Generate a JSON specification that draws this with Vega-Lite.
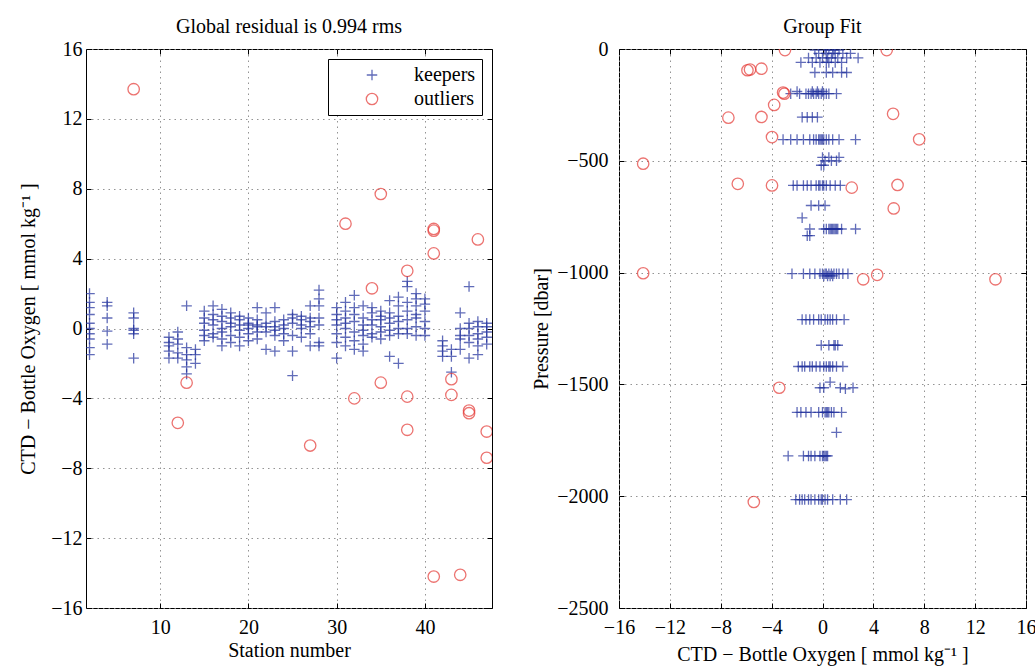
{
"$schema":"https://vega.github.io/schema/vega-lite/v6.json",
"padding":{"left":18,"top":16,"right":5,"bottom":3},
"bounds":"flush",
"spacing":127,
"resolve":{"legend":{"color":"independent","shape":"independent","size":"independent"},"scale":{"color":"independent","shape":"independent","size":"independent"}},
"config":{
 "font":"Liberation Serif",
 "view":{"stroke":"black","strokeWidth":1},
 "axis":{"labelFont":"Liberation Serif","labelFontSize":20,"labelColor":"black","titleFont":"Liberation Serif","titleFontSize":20,"titleFontWeight":"normal","titleColor":"black","domain":false,"tickColor":"black","tickSize":-5,"gridColor":"#888888","gridDash":[1.5,4],"gridOpacity":0.9,"labelFlush":false,"labelOverlap":false,"format":"d"},
 "legend":{"orient":"top-right","offset":10,"strokeColor":"black","fillColor":"white","padding":6,"labelFont":"Liberation Serif","labelFontSize":20,"labelColor":"black","symbolStrokeWidth":1.3,"symbolSize":110,"rowPadding":4,"symbolOffset":28,"labelOffset":32},
 "title":{"font":"Liberation Serif","fontSize":20,"fontWeight":"normal","color":"black","offset":2}
},
"datasets":{
"left":[
{"station":2,"resid":2.0,"type":"keepers"},{"station":2,"resid":1.5,"type":"keepers"},{"station":2,"resid":1.2,"type":"keepers"},{"station":2,"resid":0.8,"type":"keepers"},{"station":2,"resid":0.3,"type":"keepers"},{"station":2,"resid":0.0,"type":"keepers"},{"station":2,"resid":-0.3,"type":"keepers"},{"station":2,"resid":-0.6,"type":"keepers"},{"station":2,"resid":-1.1,"type":"keepers"},{"station":2,"resid":-1.5,"type":"keepers"},
{"station":4,"resid":1.5,"type":"keepers"},{"station":4,"resid":1.3,"type":"keepers"},{"station":4,"resid":0.6,"type":"keepers"},{"station":4,"resid":-0.15,"type":"keepers"},{"station":4,"resid":-0.9,"type":"keepers"},
{"station":7,"resid":0.9,"type":"keepers"},{"station":7,"resid":0.6,"type":"keepers"},{"station":7,"resid":0.0,"type":"keepers"},{"station":7,"resid":-0.1,"type":"keepers"},{"station":7,"resid":-0.3,"type":"keepers"},{"station":7,"resid":-1.7,"type":"keepers"},
{"station":11,"resid":-0.5,"type":"keepers"},{"station":11,"resid":-0.8,"type":"keepers"},{"station":11,"resid":-1.0,"type":"keepers"},{"station":11,"resid":-1.3,"type":"keepers"},{"station":11,"resid":-1.7,"type":"keepers"},
{"station":12,"resid":-0.2,"type":"keepers"},{"station":12,"resid":-0.6,"type":"keepers"},{"station":12,"resid":-0.9,"type":"keepers"},{"station":12,"resid":-1.4,"type":"keepers"},{"station":12,"resid":-1.7,"type":"keepers"},
{"station":13,"resid":1.3,"type":"keepers"},{"station":13,"resid":-1.1,"type":"keepers"},{"station":13,"resid":-1.5,"type":"keepers"},{"station":13,"resid":-1.8,"type":"keepers"},{"station":13,"resid":-2.2,"type":"keepers"},{"station":13,"resid":-2.6,"type":"keepers"},
{"station":14,"resid":-1.2,"type":"keepers"},{"station":14,"resid":-1.5,"type":"keepers"},{"station":14,"resid":-2.0,"type":"keepers"},
{"station":15,"resid":1.0,"type":"keepers"},{"station":15,"resid":0.6,"type":"keepers"},{"station":15,"resid":0.3,"type":"keepers"},{"station":15,"resid":-0.1,"type":"keepers"},{"station":15,"resid":-0.4,"type":"keepers"},{"station":15,"resid":-0.7,"type":"keepers"},
{"station":16,"resid":1.3,"type":"keepers"},{"station":16,"resid":0.8,"type":"keepers"},{"station":16,"resid":0.5,"type":"keepers"},{"station":16,"resid":0.2,"type":"keepers"},{"station":16,"resid":-0.3,"type":"keepers"},{"station":16,"resid":-0.5,"type":"keepers"},
{"station":17,"resid":1.1,"type":"keepers"},{"station":17,"resid":0.7,"type":"keepers"},{"station":17,"resid":0.4,"type":"keepers"},{"station":17,"resid":0.0,"type":"keepers"},{"station":17,"resid":-0.2,"type":"keepers"},{"station":17,"resid":-0.6,"type":"keepers"},{"station":17,"resid":-1.0,"type":"keepers"},
{"station":18,"resid":0.9,"type":"keepers"},{"station":18,"resid":0.6,"type":"keepers"},{"station":18,"resid":0.3,"type":"keepers"},{"station":18,"resid":0.1,"type":"keepers"},{"station":18,"resid":-0.4,"type":"keepers"},{"station":18,"resid":-0.8,"type":"keepers"},
{"station":19,"resid":0.7,"type":"keepers"},{"station":19,"resid":0.5,"type":"keepers"},{"station":19,"resid":0.2,"type":"keepers"},{"station":19,"resid":-0.1,"type":"keepers"},{"station":19,"resid":-0.5,"type":"keepers"},{"station":19,"resid":-1.0,"type":"keepers"},
{"station":20,"resid":0.6,"type":"keepers"},{"station":20,"resid":0.3,"type":"keepers"},{"station":20,"resid":0.2,"type":"keepers"},{"station":20,"resid":0.0,"type":"keepers"},{"station":20,"resid":-0.3,"type":"keepers"},{"station":20,"resid":-0.7,"type":"keepers"},
{"station":21,"resid":1.2,"type":"keepers"},{"station":21,"resid":0.5,"type":"keepers"},{"station":21,"resid":0.2,"type":"keepers"},{"station":21,"resid":0.1,"type":"keepers"},{"station":21,"resid":-0.2,"type":"keepers"},{"station":21,"resid":-0.6,"type":"keepers"},
{"station":22,"resid":0.9,"type":"keepers"},{"station":22,"resid":0.3,"type":"keepers"},{"station":22,"resid":0.1,"type":"keepers"},{"station":22,"resid":-0.2,"type":"keepers"},{"station":22,"resid":-1.2,"type":"keepers"},
{"station":23,"resid":1.2,"type":"keepers"},{"station":23,"resid":0.4,"type":"keepers"},{"station":23,"resid":0.1,"type":"keepers"},{"station":23,"resid":-0.1,"type":"keepers"},{"station":23,"resid":-0.4,"type":"keepers"},{"station":23,"resid":-1.3,"type":"keepers"},
{"station":24,"resid":0.5,"type":"keepers"},{"station":24,"resid":0.2,"type":"keepers"},{"station":24,"resid":0.0,"type":"keepers"},{"station":24,"resid":-0.3,"type":"keepers"},{"station":24,"resid":-0.7,"type":"keepers"},
{"station":25,"resid":0.8,"type":"keepers"},{"station":25,"resid":0.6,"type":"keepers"},{"station":25,"resid":0.3,"type":"keepers"},{"station":25,"resid":-0.4,"type":"keepers"},{"station":25,"resid":-1.3,"type":"keepers"},{"station":25,"resid":-2.7,"type":"keepers"},
{"station":26,"resid":0.7,"type":"keepers"},{"station":26,"resid":0.5,"type":"keepers"},{"station":26,"resid":0.2,"type":"keepers"},{"station":26,"resid":0.0,"type":"keepers"},{"station":26,"resid":-0.5,"type":"keepers"},
{"station":27,"resid":1.3,"type":"keepers"},{"station":27,"resid":0.6,"type":"keepers"},{"station":27,"resid":0.4,"type":"keepers"},{"station":27,"resid":0.1,"type":"keepers"},{"station":27,"resid":-0.3,"type":"keepers"},{"station":27,"resid":-1.0,"type":"keepers"},
{"station":28,"resid":2.2,"type":"keepers"},{"station":28,"resid":1.7,"type":"keepers"},{"station":28,"resid":1.3,"type":"keepers"},{"station":28,"resid":0.6,"type":"keepers"},{"station":28,"resid":0.2,"type":"keepers"},{"station":28,"resid":-0.8,"type":"keepers"},{"station":28,"resid":-1.0,"type":"keepers"},
{"station":30,"resid":1.2,"type":"keepers"},{"station":30,"resid":0.8,"type":"keepers"},{"station":30,"resid":0.5,"type":"keepers"},{"station":30,"resid":0.2,"type":"keepers"},{"station":30,"resid":-0.3,"type":"keepers"},{"station":30,"resid":-0.8,"type":"keepers"},{"station":30,"resid":-1.7,"type":"keepers"},
{"station":31,"resid":1.5,"type":"keepers"},{"station":31,"resid":1.0,"type":"keepers"},{"station":31,"resid":0.6,"type":"keepers"},{"station":31,"resid":0.3,"type":"keepers"},{"station":31,"resid":0.0,"type":"keepers"},{"station":31,"resid":-0.5,"type":"keepers"},{"station":31,"resid":-1.0,"type":"keepers"},
{"station":32,"resid":1.9,"type":"keepers"},{"station":32,"resid":1.2,"type":"keepers"},{"station":32,"resid":0.8,"type":"keepers"},{"station":32,"resid":0.4,"type":"keepers"},{"station":32,"resid":-0.2,"type":"keepers"},{"station":32,"resid":-0.7,"type":"keepers"},{"station":32,"resid":-1.2,"type":"keepers"},
{"station":33,"resid":1.3,"type":"keepers"},{"station":33,"resid":0.6,"type":"keepers"},{"station":33,"resid":0.2,"type":"keepers"},{"station":33,"resid":-0.1,"type":"keepers"},{"station":33,"resid":-0.4,"type":"keepers"},{"station":33,"resid":-0.9,"type":"keepers"},{"station":33,"resid":-1.3,"type":"keepers"},
{"station":34,"resid":1.2,"type":"keepers"},{"station":34,"resid":0.9,"type":"keepers"},{"station":34,"resid":0.5,"type":"keepers"},{"station":34,"resid":0.2,"type":"keepers"},{"station":34,"resid":-0.3,"type":"keepers"},{"station":34,"resid":-0.5,"type":"keepers"},
{"station":35,"resid":1.0,"type":"keepers"},{"station":35,"resid":0.7,"type":"keepers"},{"station":35,"resid":0.5,"type":"keepers"},{"station":35,"resid":0.1,"type":"keepers"},{"station":35,"resid":-0.2,"type":"keepers"},{"station":35,"resid":-0.6,"type":"keepers"},
{"station":36,"resid":1.6,"type":"keepers"},{"station":36,"resid":0.9,"type":"keepers"},{"station":36,"resid":0.6,"type":"keepers"},{"station":36,"resid":0.3,"type":"keepers"},{"station":36,"resid":-0.1,"type":"keepers"},{"station":36,"resid":-0.4,"type":"keepers"},{"station":36,"resid":-1.6,"type":"keepers"},
{"station":37,"resid":1.8,"type":"keepers"},{"station":37,"resid":1.3,"type":"keepers"},{"station":37,"resid":0.7,"type":"keepers"},{"station":37,"resid":0.4,"type":"keepers"},{"station":37,"resid":0.0,"type":"keepers"},{"station":37,"resid":-0.3,"type":"keepers"},{"station":37,"resid":-2.0,"type":"keepers"},
{"station":38,"resid":2.7,"type":"keepers"},{"station":38,"resid":2.4,"type":"keepers"},{"station":38,"resid":1.5,"type":"keepers"},{"station":38,"resid":1.0,"type":"keepers"},{"station":38,"resid":0.5,"type":"keepers"},{"station":38,"resid":0.0,"type":"keepers"},{"station":38,"resid":-0.3,"type":"keepers"},
{"station":39,"resid":2.0,"type":"keepers"},{"station":39,"resid":1.7,"type":"keepers"},{"station":39,"resid":1.3,"type":"keepers"},{"station":39,"resid":0.8,"type":"keepers"},{"station":39,"resid":0.6,"type":"keepers"},{"station":39,"resid":0.1,"type":"keepers"},{"station":39,"resid":-0.4,"type":"keepers"},
{"station":40,"resid":1.7,"type":"keepers"},{"station":40,"resid":1.4,"type":"keepers"},{"station":40,"resid":1.0,"type":"keepers"},{"station":40,"resid":0.4,"type":"keepers"},{"station":40,"resid":0.0,"type":"keepers"},{"station":40,"resid":-0.4,"type":"keepers"},
{"station":42,"resid":-0.7,"type":"keepers"},{"station":42,"resid":-1.0,"type":"keepers"},{"station":42,"resid":-1.3,"type":"keepers"},{"station":42,"resid":-1.6,"type":"keepers"},
{"station":43,"resid":-1.2,"type":"keepers"},{"station":43,"resid":-1.6,"type":"keepers"},{"station":43,"resid":-2.5,"type":"keepers"},
{"station":44,"resid":0.9,"type":"keepers"},{"station":44,"resid":0.0,"type":"keepers"},{"station":44,"resid":-0.4,"type":"keepers"},{"station":44,"resid":-0.6,"type":"keepers"},{"station":44,"resid":-1.2,"type":"keepers"},
{"station":45,"resid":2.4,"type":"keepers"},{"station":45,"resid":0.3,"type":"keepers"},{"station":45,"resid":0.0,"type":"keepers"},{"station":45,"resid":-0.4,"type":"keepers"},{"station":45,"resid":-0.8,"type":"keepers"},{"station":45,"resid":-1.7,"type":"keepers"},
{"station":46,"resid":0.4,"type":"keepers"},{"station":46,"resid":0.1,"type":"keepers"},{"station":46,"resid":-0.3,"type":"keepers"},{"station":46,"resid":-0.6,"type":"keepers"},{"station":46,"resid":-1.0,"type":"keepers"},{"station":46,"resid":-1.5,"type":"keepers"},
{"station":47,"resid":0.3,"type":"keepers"},{"station":47,"resid":0.1,"type":"keepers"},{"station":47,"resid":-0.2,"type":"keepers"},{"station":47,"resid":-0.5,"type":"keepers"},{"station":47,"resid":-0.9,"type":"keepers"},
{"station":7,"resid":13.7,"type":"outliers"},{"station":31,"resid":6.0,"type":"outliers"},{"station":35,"resid":7.7,"type":"outliers"},{"station":41,"resid":5.6,"type":"outliers"},{"station":41,"resid":5.7,"type":"outliers"},{"station":41,"resid":4.3,"type":"outliers"},{"station":46,"resid":5.1,"type":"outliers"},{"station":34,"resid":2.3,"type":"outliers"},{"station":38,"resid":3.3,"type":"outliers"},{"station":13,"resid":-3.1,"type":"outliers"},{"station":12,"resid":-5.4,"type":"outliers"},{"station":27,"resid":-6.7,"type":"outliers"},{"station":32,"resid":-4.0,"type":"outliers"},{"station":35,"resid":-3.1,"type":"outliers"},{"station":38,"resid":-3.9,"type":"outliers"},{"station":38,"resid":-5.8,"type":"outliers"},{"station":43,"resid":-2.9,"type":"outliers"},{"station":43,"resid":-3.8,"type":"outliers"},{"station":45,"resid":-4.7,"type":"outliers"},{"station":45,"resid":-4.85,"type":"outliers"},{"station":47,"resid":-5.9,"type":"outliers"},{"station":47,"resid":-7.4,"type":"outliers"},{"station":41,"resid":-14.2,"type":"outliers"},{"station":44,"resid":-14.1,"type":"outliers"}
],
"right":[
{"pressure":-5,"resid":-0.6,"type":"keepers"},{"pressure":-5,"resid":0.2,"type":"keepers"},{"pressure":-5,"resid":0.5,"type":"keepers"},{"pressure":-5,"resid":0.9,"type":"keepers"},{"pressure":-5,"resid":1.3,"type":"keepers"},
{"pressure":-20,"resid":-0.3,"type":"keepers"},{"pressure":-20,"resid":0.3,"type":"keepers"},{"pressure":-20,"resid":0.8,"type":"keepers"},{"pressure":-20,"resid":1.0,"type":"keepers"},{"pressure":-20,"resid":1.6,"type":"keepers"},{"pressure":-20,"resid":2.2,"type":"keepers"},
{"pressure":-40,"resid":-1.1,"type":"keepers"},{"pressure":-40,"resid":-0.5,"type":"keepers"},{"pressure":-40,"resid":0.0,"type":"keepers"},{"pressure":-40,"resid":0.4,"type":"keepers"},{"pressure":-40,"resid":0.7,"type":"keepers"},{"pressure":-40,"resid":1.2,"type":"keepers"},{"pressure":-40,"resid":1.9,"type":"keepers"},{"pressure":-40,"resid":2.8,"type":"keepers"},
{"pressure":-60,"resid":-1.7,"type":"keepers"},{"pressure":-60,"resid":-0.8,"type":"keepers"},{"pressure":-60,"resid":-0.2,"type":"keepers"},{"pressure":-60,"resid":0.3,"type":"keepers"},{"pressure":-60,"resid":0.5,"type":"keepers"},{"pressure":-60,"resid":1.0,"type":"keepers"},{"pressure":-60,"resid":1.5,"type":"keepers"},
{"pressure":-105,"resid":-0.6,"type":"keepers"},{"pressure":-105,"resid":0.3,"type":"keepers"},{"pressure":-105,"resid":0.8,"type":"keepers"},{"pressure":-105,"resid":1.5,"type":"keepers"},{"pressure":-105,"resid":1.9,"type":"keepers"},
{"pressure":-190,"resid":-2.0,"type":"keepers"},{"pressure":-190,"resid":-0.8,"type":"keepers"},{"pressure":-190,"resid":-0.4,"type":"keepers"},{"pressure":-190,"resid":0.0,"type":"keepers"},
{"pressure":-200,"resid":-2.5,"type":"keepers"},{"pressure":-200,"resid":-1.8,"type":"keepers"},{"pressure":-200,"resid":-1.3,"type":"keepers"},{"pressure":-200,"resid":-1.1,"type":"keepers"},{"pressure":-200,"resid":-0.9,"type":"keepers"},{"pressure":-200,"resid":-0.7,"type":"keepers"},{"pressure":-200,"resid":-0.5,"type":"keepers"},{"pressure":-200,"resid":-0.3,"type":"keepers"},{"pressure":-200,"resid":-0.1,"type":"keepers"},{"pressure":-200,"resid":0.1,"type":"keepers"},{"pressure":-200,"resid":0.3,"type":"keepers"},{"pressure":-200,"resid":0.5,"type":"keepers"},{"pressure":-200,"resid":1.1,"type":"keepers"},
{"pressure":-305,"resid":-1.6,"type":"keepers"},{"pressure":-305,"resid":-1.2,"type":"keepers"},{"pressure":-305,"resid":-0.8,"type":"keepers"},{"pressure":-305,"resid":-0.4,"type":"keepers"},
{"pressure":-405,"resid":-3.1,"type":"keepers"},{"pressure":-405,"resid":-2.5,"type":"keepers"},{"pressure":-405,"resid":-2.0,"type":"keepers"},{"pressure":-405,"resid":-1.5,"type":"keepers"},{"pressure":-405,"resid":-1.0,"type":"keepers"},{"pressure":-405,"resid":-0.7,"type":"keepers"},{"pressure":-405,"resid":-0.5,"type":"keepers"},{"pressure":-405,"resid":-0.3,"type":"keepers"},{"pressure":-405,"resid":-0.2,"type":"keepers"},{"pressure":-405,"resid":-0.1,"type":"keepers"},{"pressure":-405,"resid":0.0,"type":"keepers"},{"pressure":-405,"resid":0.1,"type":"keepers"},{"pressure":-405,"resid":0.3,"type":"keepers"},{"pressure":-405,"resid":0.5,"type":"keepers"},{"pressure":-405,"resid":0.8,"type":"keepers"},{"pressure":-405,"resid":1.3,"type":"keepers"},{"pressure":-405,"resid":2.6,"type":"keepers"},
{"pressure":-485,"resid":0.0,"type":"keepers"},{"pressure":-485,"resid":0.5,"type":"keepers"},{"pressure":-485,"resid":1.3,"type":"keepers"},
{"pressure":-500,"resid":0.2,"type":"keepers"},{"pressure":-500,"resid":0.7,"type":"keepers"},{"pressure":-500,"resid":1.1,"type":"keepers"},
{"pressure":-520,"resid":-0.1,"type":"keepers"},{"pressure":-520,"resid":0.1,"type":"keepers"},
{"pressure":-610,"resid":-2.3,"type":"keepers"},{"pressure":-610,"resid":-2.0,"type":"keepers"},{"pressure":-610,"resid":-1.5,"type":"keepers"},{"pressure":-610,"resid":-1.2,"type":"keepers"},{"pressure":-610,"resid":-0.9,"type":"keepers"},{"pressure":-610,"resid":-0.5,"type":"keepers"},{"pressure":-610,"resid":-0.3,"type":"keepers"},{"pressure":-610,"resid":-0.2,"type":"keepers"},{"pressure":-610,"resid":0.0,"type":"keepers"},{"pressure":-610,"resid":0.1,"type":"keepers"},{"pressure":-610,"resid":0.3,"type":"keepers"},{"pressure":-610,"resid":0.6,"type":"keepers"},{"pressure":-610,"resid":1.0,"type":"keepers"},{"pressure":-610,"resid":1.4,"type":"keepers"},
{"pressure":-700,"resid":-0.9,"type":"keepers"},{"pressure":-700,"resid":-0.3,"type":"keepers"},{"pressure":-700,"resid":0.2,"type":"keepers"},
{"pressure":-755,"resid":-1.6,"type":"keepers"},
{"pressure":-805,"resid":-1.0,"type":"keepers"},{"pressure":-805,"resid":0.1,"type":"keepers"},{"pressure":-805,"resid":0.3,"type":"keepers"},{"pressure":-805,"resid":0.5,"type":"keepers"},{"pressure":-805,"resid":0.6,"type":"keepers"},{"pressure":-805,"resid":0.7,"type":"keepers"},{"pressure":-805,"resid":0.8,"type":"keepers"},{"pressure":-805,"resid":0.9,"type":"keepers"},{"pressure":-805,"resid":1.0,"type":"keepers"},{"pressure":-805,"resid":1.1,"type":"keepers"},{"pressure":-805,"resid":1.2,"type":"keepers"},{"pressure":-805,"resid":1.5,"type":"keepers"},{"pressure":-805,"resid":2.6,"type":"keepers"},
{"pressure":-835,"resid":-1.2,"type":"keepers"},{"pressure":-835,"resid":-1.0,"type":"keepers"},
{"pressure":-1005,"resid":-2.4,"type":"keepers"},{"pressure":-1005,"resid":-1.5,"type":"keepers"},{"pressure":-1005,"resid":-1.0,"type":"keepers"},{"pressure":-1005,"resid":-0.6,"type":"keepers"},{"pressure":-1005,"resid":-0.2,"type":"keepers"},{"pressure":-1005,"resid":0.0,"type":"keepers"},{"pressure":-1005,"resid":0.2,"type":"keepers"},{"pressure":-1005,"resid":0.3,"type":"keepers"},{"pressure":-1005,"resid":0.5,"type":"keepers"},{"pressure":-1005,"resid":0.7,"type":"keepers"},{"pressure":-1005,"resid":0.9,"type":"keepers"},{"pressure":-1005,"resid":1.1,"type":"keepers"},{"pressure":-1005,"resid":1.3,"type":"keepers"},{"pressure":-1005,"resid":1.6,"type":"keepers"},{"pressure":-1005,"resid":2.0,"type":"keepers"},
{"pressure":-1015,"resid":0.1,"type":"keepers"},{"pressure":-1015,"resid":0.4,"type":"keepers"},{"pressure":-1015,"resid":0.6,"type":"keepers"},{"pressure":-1015,"resid":0.8,"type":"keepers"},
{"pressure":-1210,"resid":-1.6,"type":"keepers"},{"pressure":-1210,"resid":-1.3,"type":"keepers"},{"pressure":-1210,"resid":-1.0,"type":"keepers"},{"pressure":-1210,"resid":-0.7,"type":"keepers"},{"pressure":-1210,"resid":-0.3,"type":"keepers"},{"pressure":-1210,"resid":-0.1,"type":"keepers"},{"pressure":-1210,"resid":0.2,"type":"keepers"},{"pressure":-1210,"resid":0.4,"type":"keepers"},{"pressure":-1210,"resid":0.6,"type":"keepers"},{"pressure":-1210,"resid":0.8,"type":"keepers"},{"pressure":-1210,"resid":1.1,"type":"keepers"},{"pressure":-1210,"resid":1.7,"type":"keepers"},
{"pressure":-1325,"resid":-0.1,"type":"keepers"},{"pressure":-1325,"resid":0.5,"type":"keepers"},{"pressure":-1325,"resid":0.9,"type":"keepers"},{"pressure":-1325,"resid":1.0,"type":"keepers"},{"pressure":-1325,"resid":1.2,"type":"keepers"},
{"pressure":-1420,"resid":-1.9,"type":"keepers"},{"pressure":-1420,"resid":-1.6,"type":"keepers"},{"pressure":-1420,"resid":-1.4,"type":"keepers"},{"pressure":-1420,"resid":-1.0,"type":"keepers"},{"pressure":-1420,"resid":-0.8,"type":"keepers"},{"pressure":-1420,"resid":-0.5,"type":"keepers"},{"pressure":-1420,"resid":-0.2,"type":"keepers"},{"pressure":-1420,"resid":0.1,"type":"keepers"},{"pressure":-1420,"resid":0.3,"type":"keepers"},{"pressure":-1420,"resid":0.5,"type":"keepers"},{"pressure":-1420,"resid":0.6,"type":"keepers"},{"pressure":-1420,"resid":0.8,"type":"keepers"},{"pressure":-1420,"resid":1.1,"type":"keepers"},{"pressure":-1420,"resid":1.6,"type":"keepers"},
{"pressure":-1490,"resid":0.6,"type":"keepers"},
{"pressure":-1515,"resid":-0.2,"type":"keepers"},{"pressure":-1515,"resid":0.1,"type":"keepers"},{"pressure":-1515,"resid":1.4,"type":"keepers"},{"pressure":-1515,"resid":2.4,"type":"keepers"},
{"pressure":-1520,"resid":1.8,"type":"keepers"},
{"pressure":-1625,"resid":-2.0,"type":"keepers"},{"pressure":-1625,"resid":-1.7,"type":"keepers"},{"pressure":-1625,"resid":-1.3,"type":"keepers"},{"pressure":-1625,"resid":-0.9,"type":"keepers"},{"pressure":-1625,"resid":-0.3,"type":"keepers"},{"pressure":-1625,"resid":0.0,"type":"keepers"},{"pressure":-1625,"resid":0.2,"type":"keepers"},{"pressure":-1625,"resid":0.3,"type":"keepers"},{"pressure":-1625,"resid":0.4,"type":"keepers"},{"pressure":-1625,"resid":0.5,"type":"keepers"},{"pressure":-1625,"resid":0.7,"type":"keepers"},{"pressure":-1625,"resid":0.9,"type":"keepers"},{"pressure":-1625,"resid":1.5,"type":"keepers"},
{"pressure":-1715,"resid":1.1,"type":"keepers"},
{"pressure":-1820,"resid":-2.7,"type":"keepers"},{"pressure":-1820,"resid":-1.5,"type":"keepers"},{"pressure":-1820,"resid":-1.1,"type":"keepers"},{"pressure":-1820,"resid":-0.9,"type":"keepers"},{"pressure":-1820,"resid":-0.6,"type":"keepers"},{"pressure":-1820,"resid":-0.2,"type":"keepers"},{"pressure":-1820,"resid":0.0,"type":"keepers"},{"pressure":-1820,"resid":0.1,"type":"keepers"},{"pressure":-1820,"resid":0.2,"type":"keepers"},{"pressure":-1820,"resid":0.3,"type":"keepers"},{"pressure":-1820,"resid":0.4,"type":"keepers"},
{"pressure":-2015,"resid":-2.1,"type":"keepers"},{"pressure":-2015,"resid":-1.8,"type":"keepers"},{"pressure":-2015,"resid":-1.6,"type":"keepers"},{"pressure":-2015,"resid":-1.4,"type":"keepers"},{"pressure":-2015,"resid":-1.1,"type":"keepers"},{"pressure":-2015,"resid":-0.9,"type":"keepers"},{"pressure":-2015,"resid":-0.6,"type":"keepers"},{"pressure":-2015,"resid":-0.3,"type":"keepers"},{"pressure":-2015,"resid":-0.1,"type":"keepers"},{"pressure":-2015,"resid":0.0,"type":"keepers"},{"pressure":-2015,"resid":0.2,"type":"keepers"},{"pressure":-2015,"resid":0.4,"type":"keepers"},{"pressure":-2015,"resid":0.8,"type":"keepers"},{"pressure":-2015,"resid":1.4,"type":"keepers"},{"pressure":-2015,"resid":1.9,"type":"keepers"},
{"pressure":-5,"resid":-2.95,"type":"outliers"},{"pressure":-5,"resid":5.05,"type":"outliers"},{"pressure":-95,"resid":-5.9,"type":"outliers"},{"pressure":-92,"resid":-5.7,"type":"outliers"},{"pressure":-88,"resid":-4.8,"type":"outliers"},{"pressure":-195,"resid":-3.1,"type":"outliers"},{"pressure":-200,"resid":-3.0,"type":"outliers"},{"pressure":-250,"resid":-3.8,"type":"outliers"},{"pressure":-307,"resid":-7.4,"type":"outliers"},{"pressure":-304,"resid":-4.8,"type":"outliers"},{"pressure":-290,"resid":5.55,"type":"outliers"},{"pressure":-394,"resid":-3.97,"type":"outliers"},{"pressure":-404,"resid":7.6,"type":"outliers"},{"pressure":-513,"resid":-14.1,"type":"outliers"},{"pressure":-603,"resid":-6.66,"type":"outliers"},{"pressure":-610,"resid":-3.97,"type":"outliers"},{"pressure":-620,"resid":2.3,"type":"outliers"},{"pressure":-608,"resid":5.9,"type":"outliers"},{"pressure":-713,"resid":5.6,"type":"outliers"},{"pressure":-1003,"resid":-14.1,"type":"outliers"},{"pressure":-1030,"resid":3.2,"type":"outliers"},{"pressure":-1010,"resid":4.3,"type":"outliers"},{"pressure":-1030,"resid":13.6,"type":"outliers"},{"pressure":-1515,"resid":-3.4,"type":"outliers"},{"pressure":-2026,"resid":-5.4,"type":"outliers"}
]
},
"hconcat":[
{
 "width":406,"height":559,
 "title":{"text":"Global residual is 0.994 rms"},
 "data":{"name":"left"},
 "layer":[
  {"mark":{"type":"point","filled":false,"clip":true,"strokeWidth":1.3},
   "encoding":{
    "x":{"field":"station","type":"quantitative","scale":{"domain":[1.6,47.6],"nice":false,"zero":false},"axis":{"values":[10,20,30,40],"title":"Station number","labelPadding":14.5,"titlePadding":3}},
    "y":{"field":"resid","type":"quantitative","scale":{"domain":[-16,16],"nice":false},"axis":{"values":[-16,-12,-8,-4,0,4,8,12,16],"title":"CTD − Bottle Oxygen [  mmol kg⁻¹ ]","labelPadding":9,"titlePadding":12}},
    "color":{"field":"type","type":"nominal","scale":{"domain":["keepers","outliers"],"range":["#1f2f9c","#e53935"]},"legend":{"title":null,"labelExpr":"datum.label + '\u00a0\u00a0\u00a0'"}},
    "shape":{"field":"type","type":"nominal","scale":{"domain":["keepers","outliers"],"range":["M-1,0L1,0M0,-1L0,1","circle"]},"legend":{"title":null,"labelExpr":"datum.label + '\u00a0\u00a0\u00a0'"}},
    "size":{"field":"type","type":"nominal","scale":{"domain":["keepers","outliers"],"range":[110,130]},"legend":null}
   }},
  {"mark":{"type":"point","opacity":0},
   "encoding":{
    "x":{"field":"station","type":"quantitative","axis":{"orient":"top","labels":false,"grid":false,"title":null,"values":[10,20,30,40]}},
    "y":{"field":"resid","type":"quantitative","axis":{"orient":"right","labels":false,"grid":false,"title":null,"values":[-16,-12,-8,-4,0,4,8,12,16]}}
   }}
 ],
 "resolve":{"axis":{"x":"independent","y":"independent"}}
},
{
 "width":407,"height":559,
 "title":{"text":"Group Fit"},
 "data":{"name":"right"},
 "layer":[
  {"mark":{"type":"point","filled":false,"clip":true,"strokeWidth":1.3},
   "encoding":{
    "x":{"field":"resid","type":"quantitative","scale":{"domain":[-16,16],"nice":false},"axis":{"values":[-16,-12,-8,-4,0,4,8,12,16],"title":"CTD − Bottle Oxygen [  mmol kg⁻¹ ]","labelPadding":14.5,"titlePadding":7}},
    "y":{"field":"pressure","type":"quantitative","scale":{"domain":[-2500,0],"nice":false},"axis":{"values":[-2500,-2000,-1500,-1000,-500,0],"title":"Pressure [dbar]","labelPadding":16,"titlePadding":5}},
    "color":{"field":"type","type":"nominal","scale":{"domain":["keepers","outliers"],"range":["#1f2f9c","#e53935"]},"legend":null},
    "shape":{"field":"type","type":"nominal","scale":{"domain":["keepers","outliers"],"range":["M-1,0L1,0M0,-1L0,1","circle"]},"legend":null},
    "size":{"field":"type","type":"nominal","scale":{"domain":["keepers","outliers"],"range":[110,130]},"legend":null}
   }},
  {"mark":{"type":"point","opacity":0},
   "encoding":{
    "x":{"field":"resid","type":"quantitative","axis":{"orient":"top","labels":false,"grid":false,"title":null,"values":[-16,-12,-8,-4,0,4,8,12,16]}},
    "y":{"field":"pressure","type":"quantitative","axis":{"orient":"right","labels":false,"grid":false,"title":null,"values":[-2500,-2000,-1500,-1000,-500,0]}}
   }}
 ],
 "resolve":{"axis":{"x":"independent","y":"independent"}}
}
]
}
